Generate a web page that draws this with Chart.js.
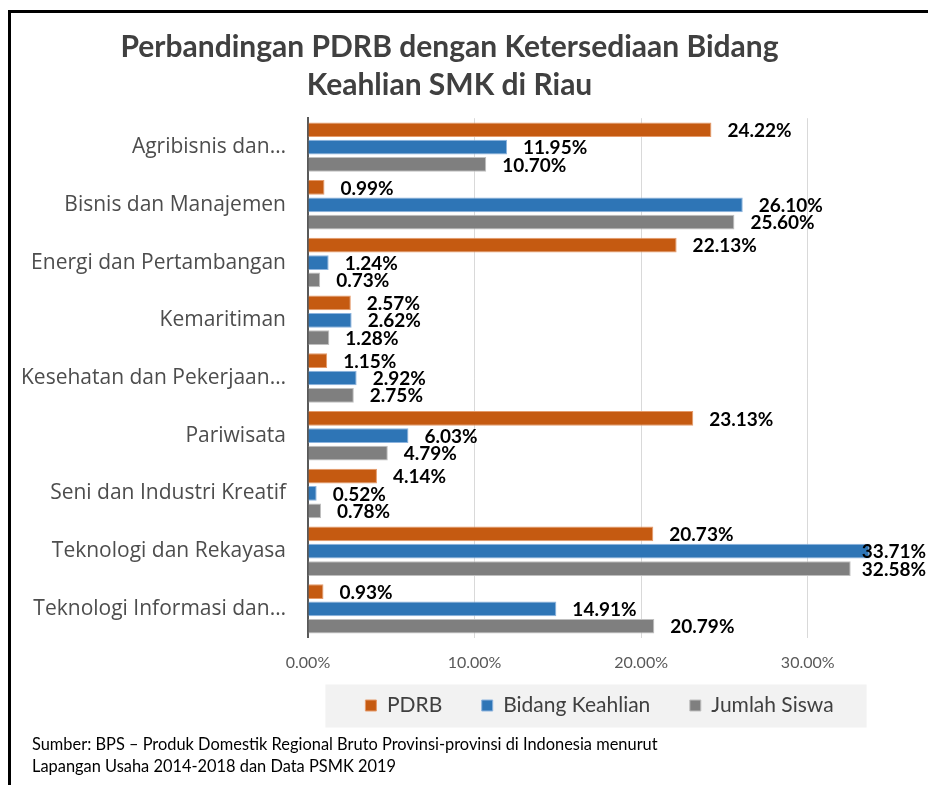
<!DOCTYPE html>
<html>
<head>
<meta charset="utf-8">
<script src="https://cdn.jsdelivr.net/npm/chart.js@4"></script>
<style>
  html, body { margin: 0; padding: 0; background: #fff; }
  #wrap { position: relative; width: 928px; height: 785px; overflow: hidden; }
  #frame { position: absolute; left: 8px; top: 10px; width: 940px; height: 800px;
           border-left: 3px solid #000; border-top: 3px solid #000; box-sizing: border-box; pointer-events: none; }
  #source { position: absolute; left: 32px; top: 733px; font-family: Lato, sans-serif; font-size: 16.4px;
            line-height: 22px; color: #000; }
</style>
</head>
<body>
<div id="wrap">
  <canvas id="chart" width="928" height="785"></canvas>
  <div id="frame"></div>
  <div id="source">Sumber: BPS – Produk Domestik Regional Bruto Provinsi-provinsi di Indonesia menurut<br>Lapangan Usaha 2014-2018 dan Data PSMK 2019</div>
</div>
<script>
const categories = [
    'Agribisnis dan…',
    'Bisnis dan Manajemen',
    'Energi dan Pertambangan',
    'Kemaritiman',
    'Kesehatan dan Pekerjaan…',
    'Pariwisata',
    'Seni dan Industri Kreatif',
    'Teknologi dan Rekayasa',
    'Teknologi Informasi dan…'
];
const pdrb = [24.22, 0.99, 22.13, 2.57, 1.15, 23.13, 4.14, 20.73, 0.93];
const bidangKeahlian = [11.95, 26.10, 1.24, 2.62, 2.92, 6.03, 0.52, 33.71, 14.91];
const jumlahSiswa = [10.70, 25.60, 0.73, 1.28, 2.75, 4.79, 0.78, 32.58, 20.79];
const xTicks = [0, 10, 20, 30];

// value labels to the right of each bar
const valueLabels = {
    id: 'valueLabels',
    afterDatasetsDraw(chart) {
        const ctx = chart.ctx;
        ctx.save();
        ctx.font = 'bold 19px Lato';
        ctx.fillStyle = '#000';
        ctx.textBaseline = 'middle';
        chart.data.datasets.forEach((ds, i) => {
            chart.getDatasetMeta(i).data.forEach((bar, j) => {
                const text = ds.data[j].toFixed(2) + '%';
                const w = ctx.measureText(text).width;
                let x = bar.x + 16;
                if (x + w > chart.width - 2) x = chart.width - 2 - w;
                ctx.fillText(text, x, bar.y + 1);
            });
        });
        ctx.restore();
    }
};

// light grey panel behind the legend
const legendPanel = {
    id: 'legendPanel',
    beforeDraw(chart) {
        const boxes = chart.legend.legendHitBoxes;
        if (!boxes || !boxes.length) return;
        const left = Math.min(...boxes.map(b => b.left)) - 40;
        const right = Math.max(...boxes.map(b => b.left + b.width)) + 33;
        const cy = boxes[0].top + boxes[0].height / 2;
        const ctx = chart.ctx;
        ctx.save();
        ctx.fillStyle = '#F2F2F2';
        ctx.fillRect(left, cy - 21, right - left, 43);
        ctx.restore();
    }
};

new Chart(document.getElementById('chart').getContext('2d'), {
    type: 'bar',
    data: {
        labels: categories,
        datasets: [
            { label: 'PDRB', data: pdrb, backgroundColor: '#C55A11', borderColor: '#E59A6A', borderWidth: 1 },
            { label: 'Bidang Keahlian', data: bidangKeahlian, backgroundColor: '#2E75B6', borderColor: '#8DB4DE', borderWidth: 1 },
            { label: 'Jumlah Siswa', data: jumlahSiswa, backgroundColor: '#7F7F7F', borderColor: '#BFBFBF', borderWidth: 1 }
        ]
    },
    plugins: [valueLabels, legendPanel],
    options: {
        indexAxis: 'y',
        responsive: false,
        animation: false,
        barPercentage: 0.85,
        categoryPercentage: 0.9,
        layout: {
            padding: { left: 8, right: 37, top: 0, bottom: 59 }
        },
        plugins: {
            title: {
                display: true,
                text: ['Perbandingan PDRB dengan Ketersediaan Bidang', 'Keahlian SMK di Riau'],
                color: '#404040',
                font: { family: 'Lato', size: 30, weight: 'bold', lineHeight: 1.27 },
                padding: { top: 28, bottom: 14 }
            },
            legend: {
                position: 'bottom',
                fullSize: false,
                labels: {
                    boxWidth: 11,
                    boxHeight: 11,
                    padding: 8,
                    color: '#404040',
                    font: { family: 'Lato', size: 21 },
                    generateLabels: chart => {
                        const items = Chart.defaults.plugins.legend.labels.generateLabels(chart);
                        items.forEach((it, k) => {
                            if (k < items.length - 1) it.text += '\u2002\u2002\u2002';
                        });
                        return items;
                    }
                }
            },
            tooltip: { enabled: false }
        },
        scales: {
            x: {
                min: 0,
                max: 35,
                afterBuildTicks: scale => {
                    scale.ticks = xTicks.map(v => ({ value: v }));
                },
                ticks: {
                    padding: 15,
                    color: '#595959',
                    font: { family: 'Lato', size: 16 },
                    callback: value => value.toFixed(2) + '%'
                },
                grid: { color: '#D9D9D9', drawTicks: false },
                border: { display: false }
            },
            y: {
                afterFit: scale => { scale.width = 300; },
                ticks: {
                    padding: 22,
                    color: '#4D4D4D',
                    font: { family: 'Open Sans', size: 21 }
                },
                grid: { display: false, drawTicks: false },
                border: { color: '#595959', width: 2 }
            }
        }
    }
});
</script>
</body>
</html>
